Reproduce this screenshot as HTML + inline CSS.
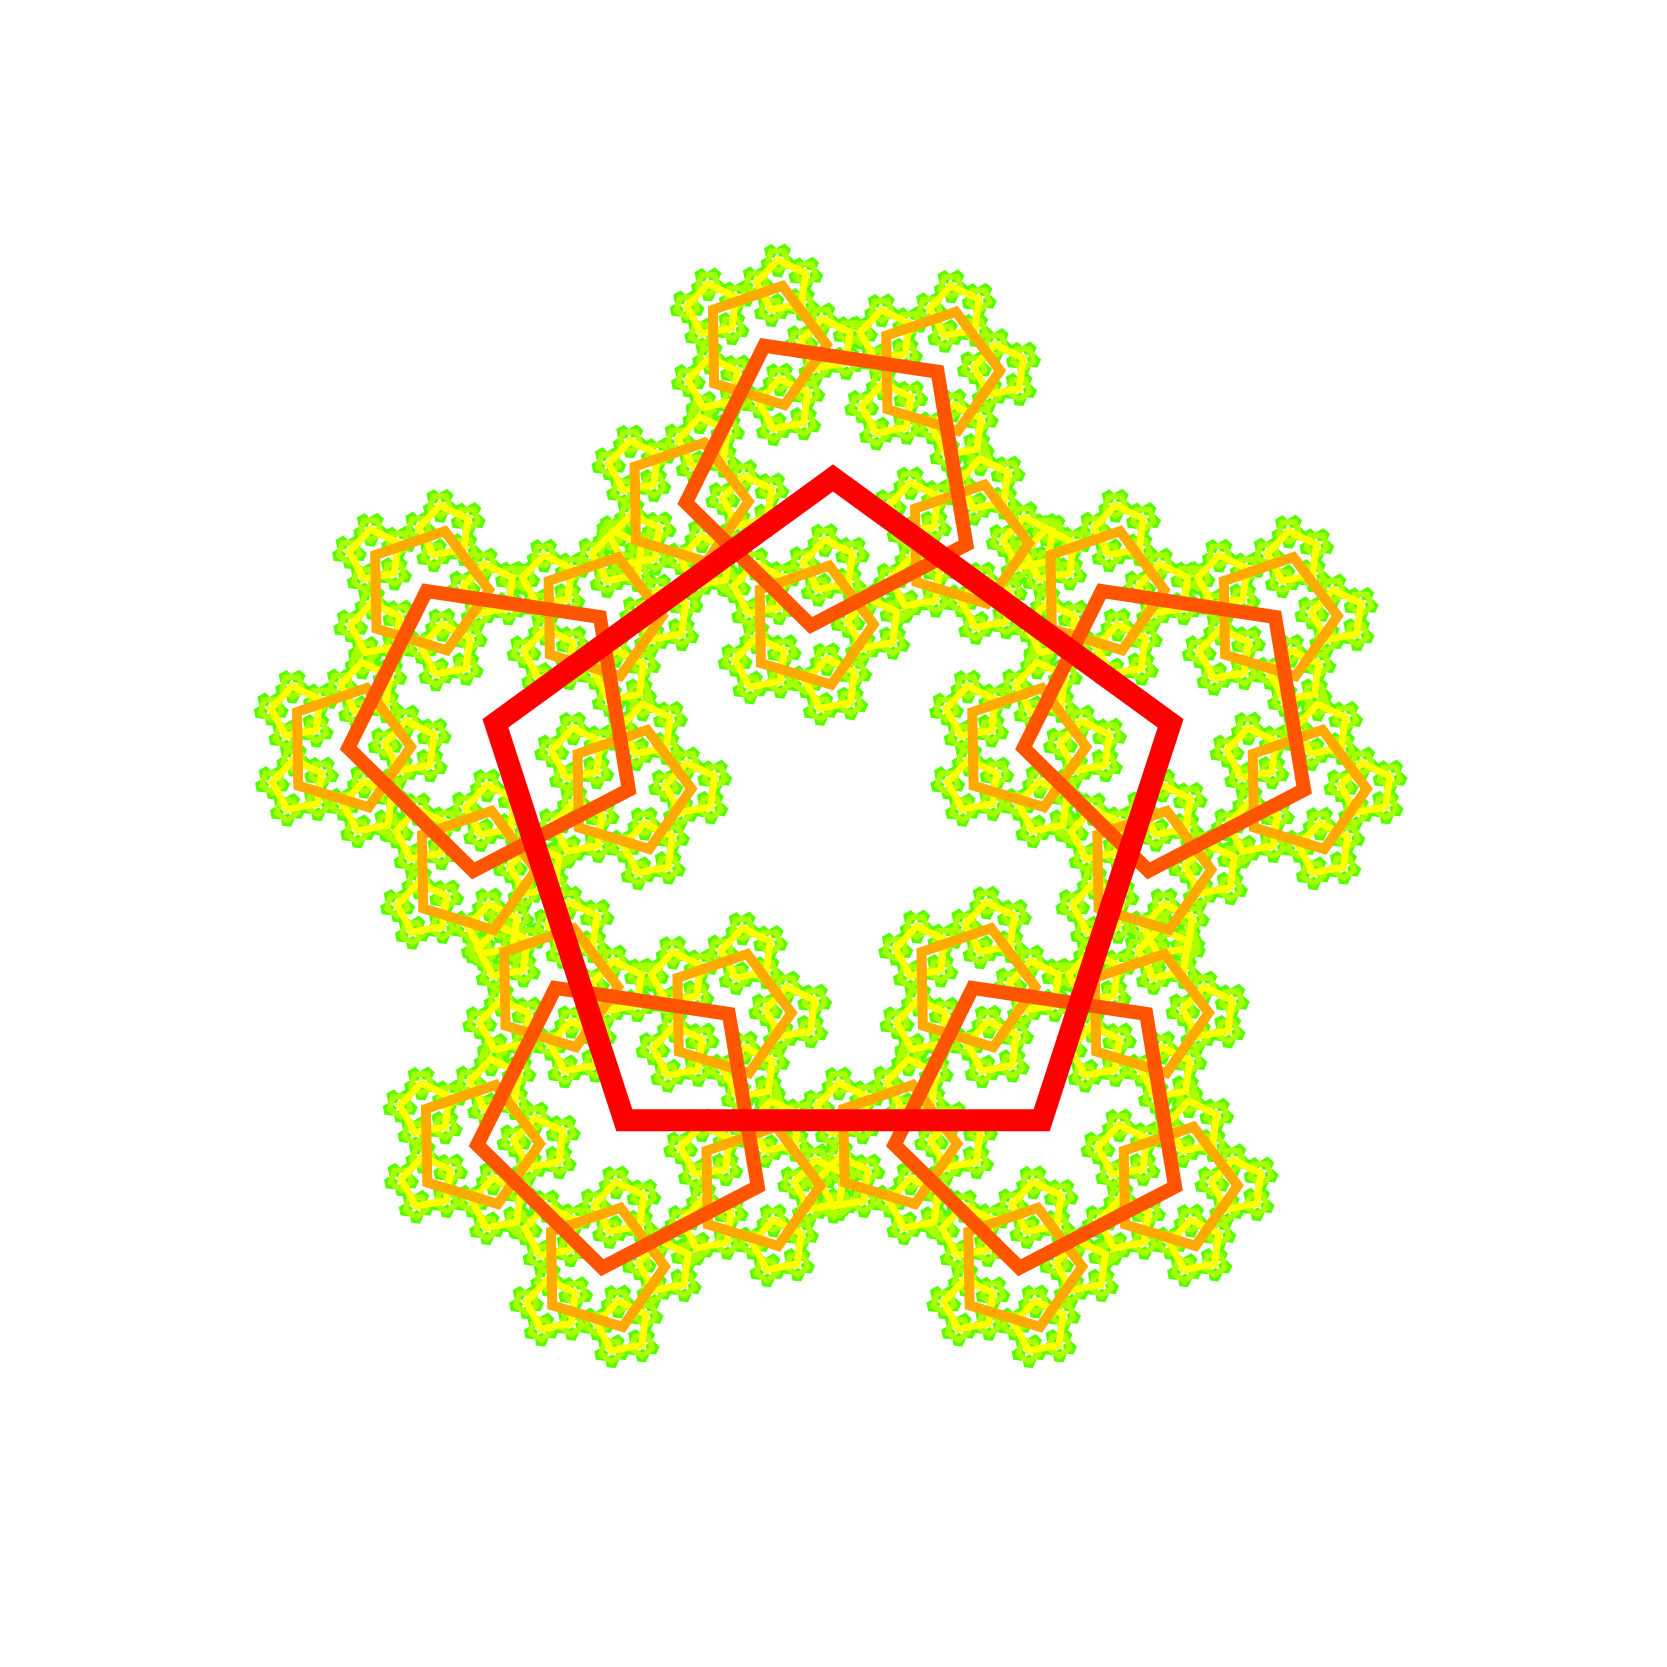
<!DOCTYPE html>
<html><head><meta charset="utf-8"><style>html,body{margin:0;padding:0;background:#fff}svg{display:block}</style></head>
<body>
<svg id="chart" width="1667" height="1667" viewBox="0 0 1667 1667" xmlns="http://www.w3.org/2000/svg"></svg>
<script>
const levelColors = ["#ff0000","#ff5500","#ffaa00","#ffff00","#aaff00","#55ff00"];
const levelWidths = [22,14,10,7,5.5,4.5];
const levelNames = ["level-0","level-1","level-2","level-3","level-4","level-5"];
const rootRadius = [355];
const scaleRatio = [0.42];
const rotateDeg = [27.5];
const svg = document.getElementById('chart');
const NS = "http://www.w3.org/2000/svg";
const cx = 833, cy = 833;
const groups = [];
for (let i = levelColors.length - 1; i >= 0; i--) {
  const g = document.createElementNS(NS, 'g');
  
  
  g.setAttribute('fill', 'none');
  g.setAttribute('stroke', levelColors[i]);
  g.setAttribute('stroke-width', levelWidths[i]);
  g.setAttribute('stroke-linejoin', 'miter');
  g.setAttribute('stroke-miterlimit', '10');
  svg.appendChild(g);
  groups[i] = g;
}
const paths = levelColors.map(() => []);
function rec(x, y, r, ang, lvl) {
  const pts = [];
  for (let k = 0; k < 5; k++) {
    const a = (ang + k * 72) * Math.PI / 180;
    pts.push([x + r * Math.cos(a), y - r * Math.sin(a)]);
  }
  paths[lvl].push('M' + pts.map(p => p[0].toFixed(1) + ' ' + p[1].toFixed(1)).join('L') + 'Z');
  if (lvl + 1 < levelColors.length) {
    for (const p of pts) rec(p[0], p[1], r * scaleRatio[0], ang + rotateDeg[0], lvl + 1);
  }
}
rec(cx, cy, rootRadius[0], 90, 0);
for (let i = 0; i < levelColors.length; i++) {
  const p = document.createElementNS(NS, 'path');
  
  
  p.setAttribute('d', paths[i].join(''));
  groups[i].appendChild(p);
}
</script>
</body></html>
